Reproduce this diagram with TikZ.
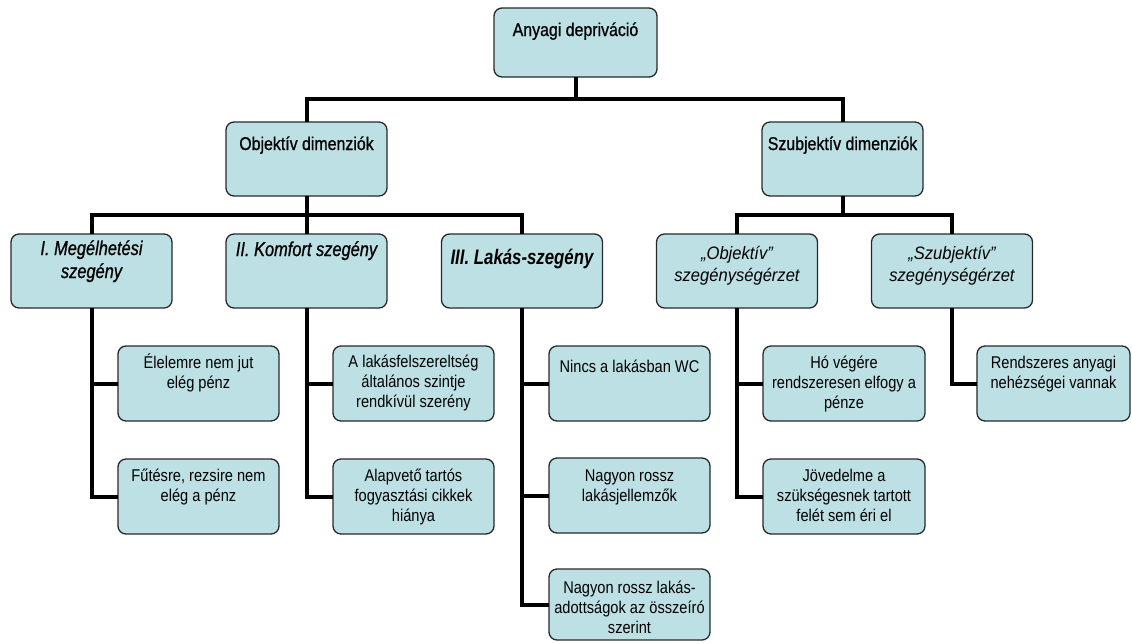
\documentclass[tikz,border=0pt]{standalone}
\usepackage{fontspec}
\setmainfont{Liberation Sans}
\newfontfamily\fleaf[FakeStretch=0.86]{Liberation Sans}
\newfontfamily\fhead[FakeStretch=0.86,FakeBold=0.8]{Liberation Sans}
\newfontfamily\fita[FakeStretch=0.82,FakeBold=0.8]{Liberation Sans}
\newfontfamily\fitb[FakeStretch=0.80]{Liberation Sans}
\newfontfamily\fitc[FakeStretch=0.92]{Liberation Sans}
\definecolor{boxfill}{RGB}{189,224,228}
\definecolor{boxline}{RGB}{40,40,40}
\newcommand\bt[5]{\parbox[c][#2pt][t]{#1pt}{#4\centering\rule{0pt}{#3pt}#5\par}}
\newcommand\leaffont{\fleaf\fontsize{17}{20}\selectfont}
\tikzset{
  bx/.style={draw=boxline, line width=1.3pt, fill=boxfill, rounded corners=8pt, inner sep=0pt, outer sep=0pt},
  conn/.style={line width=4pt, draw=black}
}
\begin{document}
\begin{tikzpicture}[x=1pt,y=-1pt]
\useasboundingbox (0,0) rectangle (1132,643);
% level 0
\node[bx] (top) at (575.5,42.5) {\bt{163}{69}{28}{\fhead\fontsize{18.5}{21}\selectfont}{Anyagi depriváció}};
% level 1
\node[bx] (obj) at (306.5,159) {\bt{161}{74}{28}{\fhead\fontsize{18.5}{21}\selectfont}{Objektív dimenziók}};
\node[bx] (szu) at (842.5,159) {\bt{161}{74}{28}{\fhead\fontsize{18.5}{21}\selectfont}{Szubjektív dimenziók}};
% level 2
\node[bx] (g1) at (91.5,271) {\bt{161}{74}{21}{\fita\itshape\fontsize{20}{23}\selectfont}{I. Megélhetési\\szegény}};
\node[bx] (g2) at (306.5,271) {\bt{161}{74}{22}{\fita\itshape\fontsize{20}{23}\selectfont}{II. Komfort szegény}};
\node[bx] (g3) at (522,271) {\bt{161}{74}{30}{\fitb\bfseries\itshape\fontsize{21}{24}\selectfont}{III. Lakás-szegény}};
\node[bx] (g4) at (737,271) {\bt{161}{74}{25}{\fitc\itshape\fontsize{18}{22}\selectfont}{„Objektív”\\szegénységérzet}};
\node[bx] (g5) at (952,271) {\bt{161}{74}{25}{\fitc\itshape\fontsize{18}{22}\selectfont}{„Szubjektív”\\szegénységérzet}};
% leaves
\node[bx] (a1) at (198.5,383.5) {\bt{161}{75}{22}{\leaffont}{Élelemre nem jut\\elég pénz}};
\node[bx] (a2) at (198.5,496.5) {\bt{161}{75}{22}{\leaffont}{Fűtésre, rezsire nem\\elég a pénz}};
\node[bx] (b1) at (413.5,383.5) {\bt{161}{75}{21}{\leaffont}{A lakásfelszereltség\\általános szintje\\rendkívül szerény}};
\node[bx] (b2) at (413.5,496.5) {\bt{161}{75}{22}{\leaffont}{Alapvető tartós\\fogyasztási cikkek\\hiánya}};
\node[bx] (c1) at (629.5,383.5) {\bt{161}{75}{26}{\leaffont}{Nincs a lakásban WC}};
\node[bx] (c2) at (629.5,495.5) {\bt{161}{75}{23}{\leaffont}{Nagyon rossz\\lakásjellemzők}};
\node[bx] (c3) at (629.5,604.5) {\bt{161}{71}{24}{\leaffont}{Nagyon rossz lakás-\\adottságok az összeíró\\szerint}};
\node[bx] (d1) at (844,383.5) {\bt{162}{75}{22}{\leaffont}{Hó végére\\rendszeresen elfogy a\\pénze}};
\node[bx] (d2) at (844,496.5) {\bt{162}{75}{22}{\leaffont}{Jövedelme a\\szükségesnek tartott\\felét sem éri el}};
\node[bx] (e1) at (1053.5,383.5) {\bt{153}{75}{22}{\leaffont}{Rendszeres anyagi\\nehézségei vannak}};
% junctions
\coordinate (j0) at (575.5,99);
\coordinate (j1) at (306.5,215);
\coordinate (j2) at (842.5,215);
% connectors
\draw[conn] (top.south) -- (j0);
\draw[conn] (obj.north) |- (j0) -| (szu.north);
\draw[conn] (obj.south) -- (j1);
\draw[conn] (g1.north) |- (j1) -| (g3.north);
\draw[conn] (g2.north) -- (j1);
\draw[conn] (szu.south) -- (j2);
\draw[conn] (g4.north) |- (j2) -| (g5.north);
\draw[conn] (g1.south) |- (a1.west);
\draw[conn] (g1.south) |- (a2.west);
\draw[conn] (g2.south) |- (b1.west);
\draw[conn] (g2.south) |- (b2.west);
\draw[conn] (g3.south) |- (c1.west);
\draw[conn] (g3.south) |- (c2.west);
\draw[conn] (g3.south) |- (c3.west);
\draw[conn] (g4.south) |- (d1.west);
\draw[conn] (g4.south) |- (d2.west);
\draw[conn] (g5.south) |- (e1.west);
\end{tikzpicture}
\end{document}
